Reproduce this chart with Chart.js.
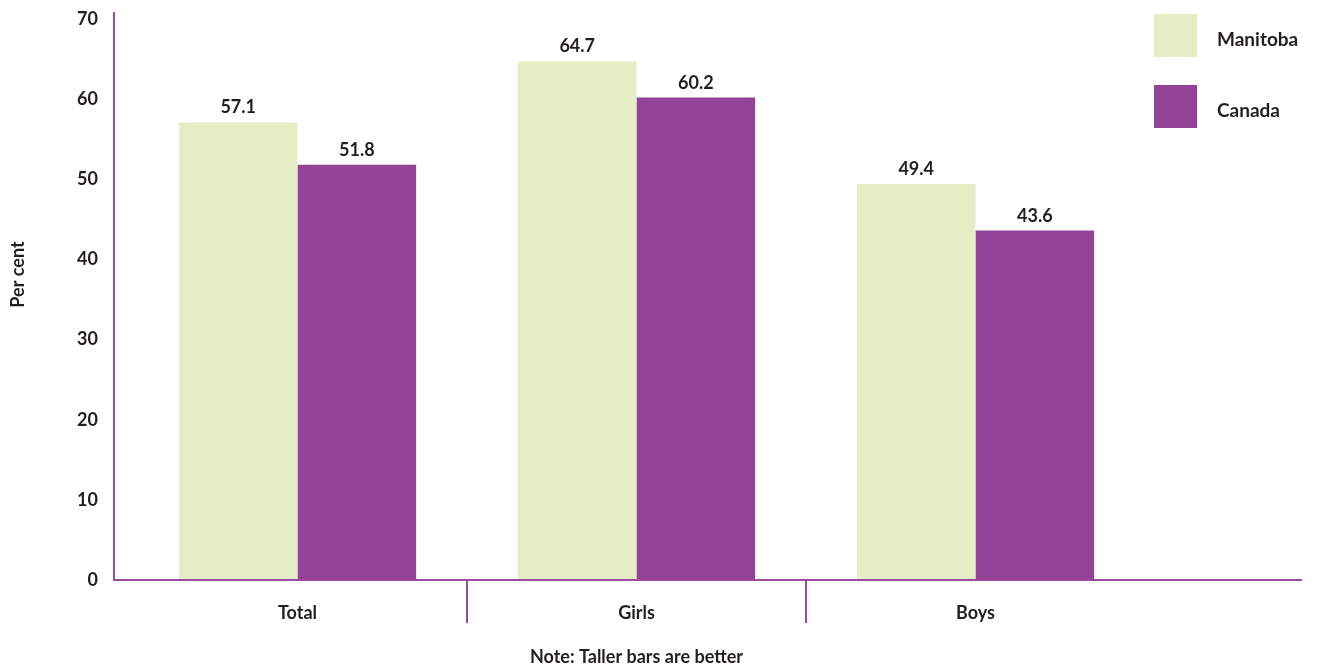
<!DOCTYPE html>
<html>
<head>
<meta charset="utf-8">
<script src="https://cdn.jsdelivr.net/npm/chart.js@4.4.1/dist/chart.umd.min.js"></script>
<style>
  html, body { margin: 0; padding: 0; background: #fff; }
  #wrap { position: relative; width: 1318px; height: 666px; }
  #bar_chart { display: block; }
  .legend { position: absolute; left: 1154px; top: 0; font: bold 19px Lato, sans-serif; color: #231f20; }
  .legend .item { position: absolute; left: 0; width: 160px; height: 43px; }
  .legend .box { position: absolute; left: 0; top: 0; width: 43px; height: 43px; }
  .legend .txt { position: absolute; left: 63px; top: 13px; }
</style>
</head>
<body>
<div id="wrap">
  <canvas id="bar_chart" width="1318" height="666"></canvas>
  <div class="legend" id="legend"></div>
</div>
<script>
// chart data
const categories = ["Total", "Girls", "Boys"];
const manitoba = [57.1, 64.7, 49.4];
const canada = [51.8, 60.2, 43.6];
const y_ticks = [0, 10, 20, 30, 40, 50, 60, 70];

const lightGreen = "#e4edc3";
const purple = "#924397";
const axisPurple = "#9b4aa2";
const textColor = "#231f20";
const fontFamily = "Lato, 'Open Sans', sans-serif";

const ctx = document.getElementById("bar_chart").getContext("2d");

// axis lines, separators between the groups and the y title
const axisLines = {
    id: "axisLines",
    afterDraw(chart) {
        const c = chart.ctx;
        const area = chart.chartArea;
        const x = chart.scales.x;
        const left = area.left - 14;
        c.save();
        c.strokeStyle = axisPurple;
        c.lineWidth = 2;
        c.beginPath();
        c.moveTo(left, 12);
        c.lineTo(left, area.bottom);
        c.lineTo(chart.width - 16, area.bottom);
        for (let i = 0; i < categories.length - 1; i++) {
            const sx = Math.round((x.getPixelForValue(i) + x.getPixelForValue(i + 1)) / 2);
            c.moveTo(sx, area.bottom);
            c.lineTo(sx, area.bottom + 43);
        }
        c.stroke();

        // "Per cent" sits a bit above the middle of the axis
        c.translate(18, (area.top + area.bottom) / 2 - 25);
        c.rotate(-Math.PI / 2);
        c.font = "bold 18px " + fontFamily;
        c.fillStyle = textColor;
        c.textAlign = "center";
        c.textBaseline = "middle";
        c.fillText("Per cent", 0, 0);
        c.restore();
    },
};

// value labels above each bar
const valueLabels = {
    id: "valueLabels",
    afterDatasetsDraw(chart) {
        const c = chart.ctx;
        c.save();
        c.font = "bold 18px " + fontFamily;
        c.fillStyle = textColor;
        c.textAlign = "center";
        c.textBaseline = "alphabetic";
        chart.data.datasets.forEach((ds, di) => {
            chart.getDatasetMeta(di).data.forEach((bar, i) => {
                c.fillText(ds.data[i].toFixed(1), bar.x, bar.y - 9);
            });
        });
        c.restore();
    },
};

const my_chart = new Chart(ctx, {
    type: "bar",
    data: {
        labels: categories,
        datasets: [
            {
                label: "Manitoba",
                data: manitoba,
                backgroundColor: lightGreen,
                borderWidth: 0,
            },
            {
                label: "Canada",
                data: canada,
                backgroundColor: purple,
                borderWidth: 0,
            },
        ],
    },
    options: {
        responsive: false,
        animation: false,
        devicePixelRatio: 1,
        layout: { padding: { top: 19, right: 173, left: 0, bottom: 0 } },
        datasets: { bar: { barPercentage: 1, categoryPercentage: 0.7 } },
        plugins: {
            legend: { display: false },
            tooltip: { enabled: false },
        },
        scales: {
            x: {
                grid: { display: false },
                border: { display: false },
                ticks: {
                    color: textColor,
                    font: { family: fontFamily, size: 18, weight: "bold" },
                    padding: 14,
                },
                title: {
                    display: true,
                    text: "Note: Taller bars are better",
                    color: textColor,
                    font: { family: fontFamily, size: 18, weight: "bold" },
                    padding: { top: 0, bottom: -2 },
                },
                afterFit(scale) {
                    scale.height = 86;
                    scale.paddingLeft = 0;
                    scale.paddingRight = 0;
                },
            },
            y: {
                min: 0,
                max: 70,
                grid: { display: false },
                border: { display: false },
                afterBuildTicks(scale) {
                    scale.ticks = y_ticks.map((v) => ({ value: v }));
                },
                ticks: {
                    color: textColor,
                    font: { family: fontFamily, size: 18, weight: "bold" },
                    padding: 22,
                },
                afterFit(scale) {
                    scale.width = 128;
                    scale.paddingTop = 0;
                    scale.paddingBottom = 0;
                },
            },
        },
    },
    plugins: [axisLines, valueLabels],
});

// legend on the right
const legend = document.getElementById("legend");
my_chart.data.datasets.forEach((ds, i) => {
    const item = document.createElement("div");
    item.className = "item";
    item.style.top = (14 + i * 71) + "px";
    item.innerHTML = '<div class="box" style="background:' + ds.backgroundColor + '"></div>' +
        '<div class="txt">' + ds.label + "</div>";
    legend.appendChild(item);
});
</script>
</body>
</html>
